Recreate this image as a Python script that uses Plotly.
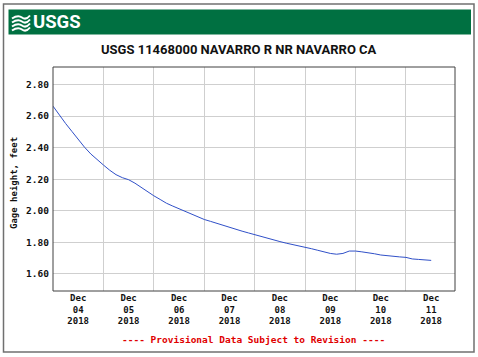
import pandas as pd
import plotly.graph_objects as go

# ---- data (3-hourly readings from Dec 04 00:00) ----
start_time = "2018-12-04 00:00"
step_hours = 3
gage_height = [
    2.663, 2.605, 2.553, 2.503, 2.452, 2.403, 2.36, 2.322,
    2.29, 2.257, 2.229, 2.21, 2.197, 2.175, 2.147, 2.12,
    2.095, 2.072, 2.048, 2.03, 2.012, 1.995, 1.978, 1.96,
    1.945, 1.933, 1.92, 1.908, 1.895, 1.882, 1.871, 1.86,
    1.848, 1.838, 1.826, 1.815, 1.805, 1.795, 1.787, 1.777,
    1.768, 1.76, 1.75, 1.74, 1.73, 1.725, 1.73, 1.745,
    1.745, 1.74, 1.735, 1.728, 1.72, 1.715, 1.71, 1.708,
    1.705, 1.695, 1.692, 1.688, 1.686,
]
times = pd.date_range(start_time, periods=len(gage_height), freq=f"{step_hours}h")

y_ticks = [1.60, 1.80, 2.00, 2.20, 2.40, 2.60, 2.80]
y_tick_labels = ["1.60", "1.80", "2.00", "2.20", "2.40", "2.60", "2.80"]
x_range = ["2018-12-04 00:00", "2018-12-11 23:20"]
y_range = [1.492, 2.911]

title_text = "USGS 11468000 NAVARRO R NR NAVARRO CA"
y_title = "Gage height, feet"
footer_text = "---- Provisional Data Subject to Revision ----"

# ---- geometry helpers (pixel -> paper) ----
W, H = 478, 357
L, R, T, B = 53, 455, 67, 291
def px(x):
    return (x - L) / (R - L)
def py(y):
    return (B - y) / (B - T)

mono = "DejaVu Sans Mono"
sans = "Roboto, Liberation Sans, Arial, sans-serif"

fig = go.Figure()
fig.add_trace(go.Scatter(
    x=times, y=gage_height, mode="lines",
    line=dict(color="#3050C8", width=1), hoverinfo="skip", showlegend=False,
))

shapes = [
    # outer frame
    dict(type="rect", xref="paper", yref="paper", x0=px(3.5), x1=px(474), y0=py(352), y1=py(4),
         line=dict(color="#707070", width=1.5), fillcolor="rgba(0,0,0,0)", layer="below"),
    # green banner
    dict(type="rect", xref="paper", yref="paper", x0=px(8.5), x1=px(471), y0=py(34.5), y1=py(9.5),
         line=dict(width=0), fillcolor="#007041", layer="below"),
    # plot frame
    dict(type="rect", xref="paper", yref="paper", x0=0, x1=1, y0=0, y1=1,
         line=dict(color="#404040", width=1), fillcolor="rgba(0,0,0,0)", layer="above"),
]
# USGS wave emblem (white strokes)
for i in range(4):
    y0 = 15.5 + i * 4
    path = (f"M {px(12)} {py(y0 + 3)} Q {px(18)} {py(y0 - 1)} {px(22)} {py(y0 + 2)} "
            f"T {px(30)} {py(y0)}")
    shapes.append(dict(type="path", xref="paper", yref="paper", path=path,
                       line=dict(color="white", width=2)))

annotations = [
    dict(text="<b>USGS</b>", x=px(30.5), y=py(22), xref="paper", yref="paper",
         xanchor="left", yanchor="middle", showarrow=False,
         font=dict(family=sans, size=18.5, color="white")),
    dict(text="<b>" + title_text + "</b>", x=px(239), y=py(49), xref="paper", yref="paper",
         xanchor="center", yanchor="middle", showarrow=False,
         font=dict(family=sans, size=13, color="#111111")),
    dict(text="<b>" + y_title + "</b>", x=px(13.5), y=py(183.5), xref="paper", yref="paper",
         xanchor="center", yanchor="middle", showarrow=False, textangle=-90,
         font=dict(family=mono, size=9, color="#111111")),
    dict(text="<b>" + footer_text + "</b>", x=px(253), y=py(339.5), xref="paper", yref="paper",
         xanchor="center", yanchor="middle", showarrow=False,
         font=dict(family=mono, size=9.5, color="#E00000")),
]

fig.update_layout(
    width=W, height=H,
    margin=dict(l=L, r=W - R, t=T, b=H - B, pad=0),
    paper_bgcolor="white", plot_bgcolor="white",
    shapes=shapes, annotations=annotations,
    xaxis=dict(
        type="date", range=x_range, dtick=86400000, tick0="2018-12-04",
        ticklabelmode="period", tickformat="<b>%b</b><br><b>%d</b><br><b>%Y</b>",
        showgrid=True, gridcolor="#CFCFCF", gridwidth=1,
        ticks="", showline=False, zeroline=False,
        tickfont=dict(family=mono, size=9, color="#111111"),
    ),
    yaxis=dict(
        range=y_range, tickvals=y_ticks, ticktext=["<b>" + t + "</b>" for t in y_tick_labels],
        showgrid=True, gridcolor="#CFCFCF", gridwidth=1,
        ticks="", showline=False, zeroline=False, ticklabelstandoff=3,
        tickfont=dict(family=mono, size=9.5, color="#111111"),
    ),
)

fig.write_html("out.html", config={"displayModeBar": False},
               post_script="document.body.style.margin='0';")
